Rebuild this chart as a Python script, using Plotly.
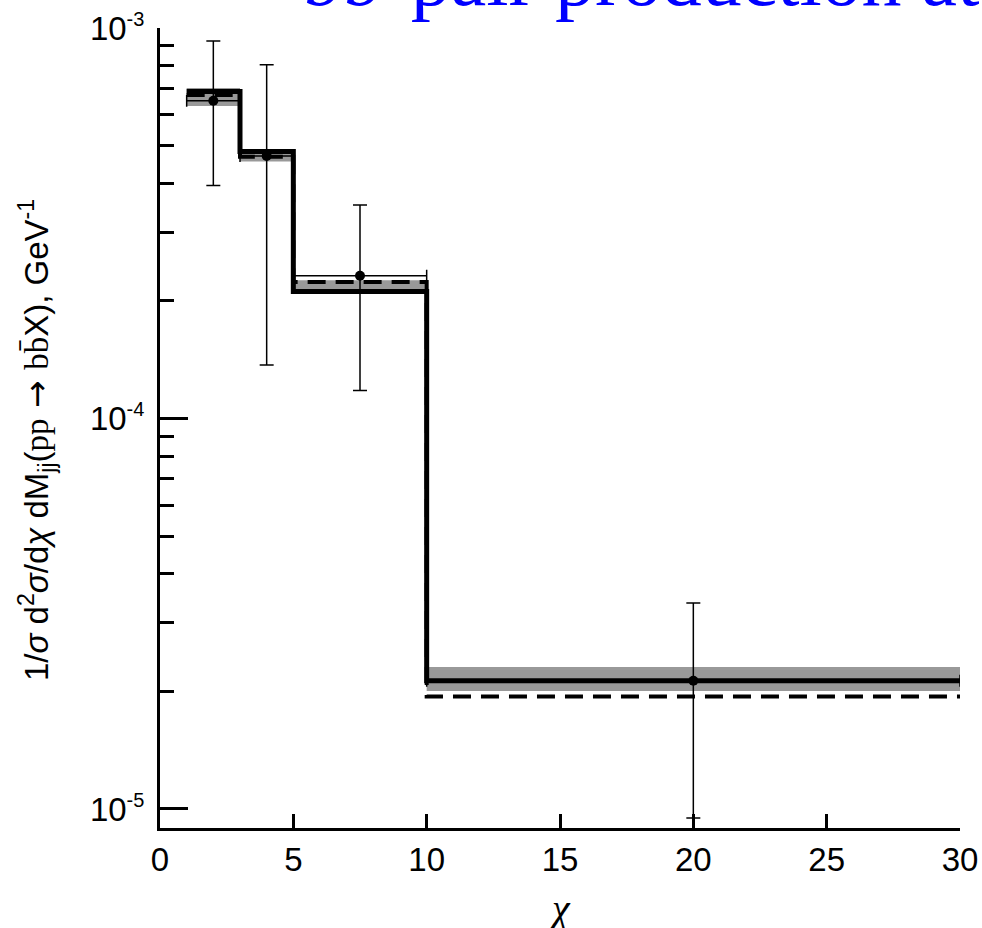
import plotly.graph_objects as go

# chi bins
bin_edges = [1, 3, 5, 10, 30]

# theory curves per bin
solid_vals = [6.88e-4, 4.83e-4, 2.115e-4, 2.13e-5]
dashed_vals = [6.74e-4, 4.68e-4, 2.237e-4, 1.94e-5]

# uncertainty band per bin
band_lo = [6.31e-4, 4.55e-4, 2.12e-4, 2.005e-5]
band_hi = [7.02e-4, 4.85e-4, 2.26e-4, 2.31e-5]

# measured points with error limits
data_vals = [6.51e-4, 4.70e-4, 2.32e-4, 2.13e-5]
data_hi = [9.26e-4, 8.05e-4, 3.52e-4, 3.37e-5]
data_lo = [3.95e-4, 1.37e-4, 1.18e-4, 9.48e-6]

# axis ticks
x_ticks = [0, 5, 10, 15, 20, 25, 30]
x_long_ticks = [10, 20, 30]
y_major = [1e-5, 1e-4, 1e-3]
y_major_text = ["10<sup><span style='font-size:20px'>-5</span></sup>",
                "10<sup><span style='font-size:20px'>-4</span></sup>",
                "10<sup><span style='font-size:20px'>-3</span></sup>"]
y_minor = [m * 10.0 ** e for e in (-5, -4) for m in range(2, 10)]

SANS = "Liberation Sans"
SERIF = "Liberation Serif"

fig = go.Figure()

# grey uncertainty bands
for i in range(len(band_lo)):
    x0, x1 = bin_edges[i], bin_edges[i + 1]
    fig.add_trace(go.Scatter(
        x=[x0, x1, x1, x0, x0],
        y=[band_lo[i], band_lo[i], band_hi[i], band_hi[i], band_lo[i]],
        fill="toself", fillcolor="#999999", line=dict(width=0),
        mode="lines", hoverinfo="skip", showlegend=False))

# dashed step histogram
fig.add_trace(go.Scatter(
    x=bin_edges, y=dashed_vals + [dashed_vals[-1]],
    mode="lines", line=dict(shape="hv", color="black", width=4, dash="18px,10px"),
    showlegend=False))

# solid step histogram
fig.add_trace(go.Scatter(
    x=bin_edges, y=solid_vals + [solid_vals[-1]],
    mode="lines", line=dict(shape="hv", color="black", width=5),
    showlegend=False))

# data points
centers = [(bin_edges[i] + bin_edges[i + 1]) / 2 for i in range(len(data_vals))]
half_w = [(bin_edges[i + 1] - bin_edges[i]) / 2 for i in range(len(data_vals))]
fig.add_trace(go.Scatter(
    x=centers, y=data_vals, mode="markers",
    marker=dict(color="black", size=10),
    error_y=dict(type="data", symmetric=False,
                 array=[h - v for h, v in zip(data_hi, data_vals)],
                 arrayminus=[v - l for v, l in zip(data_vals, data_lo)],
                 color="black", thickness=1.5, width=7),
    error_x=dict(type="data", array=half_w, color="black", thickness=1.5, width=6),
    showlegend=False))

fig.update_layout(
    width=982, height=928,
    margin=dict(l=160, r=22, t=28, b=100, autoexpand=False),
    paper_bgcolor="white", plot_bgcolor="white",
    font=dict(family=SANS, color="black"),
    xaxis=dict(
        range=[0, 30], tickmode="array", tickvals=x_ticks,
        ticks="inside", ticklen=14, tickwidth=3, tickcolor="black",
        showline=True, linewidth=3, linecolor="black",
        showgrid=False, zeroline=False, automargin=False,
        tickfont=dict(family=SANS, size=33, color="black"),
    ),
    xaxis2=dict(
        range=[0, 30], overlaying="x", anchor="y", side="bottom",
        tickmode="array", tickvals=x_long_ticks,
        ticks="inside", ticklen=28, tickwidth=3, tickcolor="black",
        showticklabels=False, showline=False, showgrid=False, zeroline=False,
        automargin=False,
    ),
    yaxis=dict(
        type="log", range=[-5.0487, -3],
        tickmode="array", tickvals=y_major, ticktext=y_major_text,
        ticks="inside", ticklen=28, tickwidth=3, tickcolor="black",
        ticklabelstandoff=6,
        minor=dict(tickmode="array", tickvals=y_minor, ticks="inside",
                   ticklen=14, tickwidth=3, tickcolor="black", showgrid=False),
        showline=True, linewidth=3, linecolor="black",
        showgrid=False, zeroline=False, automargin=False,
        tickfont=dict(family=SANS, size=33, color="black"),
    ),
)

# y-axis title
fig.add_annotation(
    xref="paper", yref="paper", x=-0.155, y=0.485,
    text=("1/<i>σ</i> d<sup>2</sup><i>σ</i>/d<i>χ</i> dM<sub>jj</sub>"
          "(<span style='font-family:Liberation Serif'>pp</span>"
          "<span style='font-family:DejaVu Sans'> → </span>"
          "<span style='font-family:Liberation Serif'>bb\u0304</span>X), GeV<sup>-1</sup>"),
    textangle=-90, showarrow=False, xanchor="center", yanchor="middle",
    font=dict(family=SANS, size=33, color="black"))

# x-axis title
fig.add_annotation(
    xref="paper", yref="paper", x=0.49875, y=-0.1,
    text="<i>χ</i>", showarrow=False, xanchor="center", yanchor="middle",
    font=dict(family=SERIF, size=40, color="black"))

# heading
fig.add_annotation(
    xref="paper", yref="paper", x=0.1775, y=1.0625,
    text="<i>bb\u0304</i>-pair production at",
    showarrow=False, xanchor="left", yanchor="middle",
    font=dict(family=SERIF, size=80, color="#0000FF"))

fig.write_html("out.html")
